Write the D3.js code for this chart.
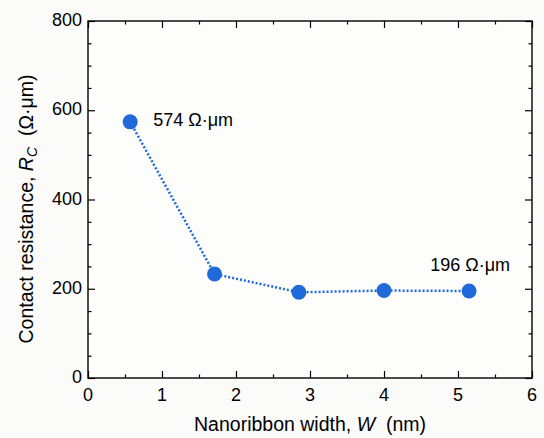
<!DOCTYPE html>
<html>
<head>
<meta charset="utf-8">
<script src="https://cdn.jsdelivr.net/npm/d3@7"></script>
<style>
  body { margin: 0; background: #fbfbf9; }
  text { font-family: "Liberation Sans", Arial, sans-serif; }
</style>
</head>
<body>
<svg id="chart" width="544" height="438"></svg>
<script>
// nanoribbon width (nm) vs contact resistance (ohm·um)
var widths = [0.57, 1.71, 2.85, 4.0, 5.15];
var resist = [574, 233, 192, 196, 195];
var xTicks = [0, 1, 2, 3, 4, 5, 6];
var yTicks = [0, 200, 400, 600, 800];
var notes = [{ i: 0, txt: "574 Ω·μm" }, { i: 4, txt: "196 Ω·μm" }];

var svg = d3.select("#chart");
// plot box (window.top is reserved, so no "top" here)
var pL = 88, pT = 21, pR = 532, pB = 378;
var blue = "#1f6ad8";

var x = d3.scaleLinear().domain([0, 6]).range([pL, pR]);
var y = d3.scaleLinear().domain([0, 800]).range([pB, pT]);

svg.append("rect")
    .attr("x", pL).attr("y", pT)
    .attr("width", pR - pL).attr("height", pB - pT)
    .attr("fill", "#fdfdfc");

// ticks on all four sides, pointing inward; major 7px, minor 3.5px
var minorX = d3.range(0.5, 6, 1);
var minorY = d3.range(50, 800, 50).filter(function (v) { return v % 200 !== 0; });

function tickAxis(axis, g) {
    g.call(axis);
    g.select(".domain").remove();
    g.selectAll("line").attr("stroke", "#000").attr("stroke-width", 1.2);
}

[[xTicks, -7], [minorX, -3.5]].forEach(function (t) {
    tickAxis(d3.axisBottom(x).tickValues(t[0]).tickSize(t[1]).tickFormat(""),
        svg.append("g").attr("transform", "translate(0," + pB + ")"));
    tickAxis(d3.axisTop(x).tickValues(t[0]).tickSize(t[1]).tickFormat(""),
        svg.append("g").attr("transform", "translate(0," + pT + ")"));
});
[[yTicks, -7], [minorY, -3.5]].forEach(function (t) {
    tickAxis(d3.axisLeft(y).tickValues(t[0]).tickSize(t[1]).tickFormat(""),
        svg.append("g").attr("transform", "translate(" + pL + ",0)"));
    tickAxis(d3.axisRight(y).tickValues(t[0]).tickSize(t[1]).tickFormat(""),
        svg.append("g").attr("transform", "translate(" + pR + ",0)"));
});

svg.append("rect")
    .attr("x", pL).attr("y", pT)
    .attr("width", pR - pL).attr("height", pB - pT)
    .attr("fill", "none").attr("stroke", "#000").attr("stroke-width", 1.4);

// tick labels
svg.append("g").selectAll("text").data(xTicks).enter().append("text")
    .attr("x", function (d) { return x(d); })
    .attr("y", pB + 23)
    .attr("text-anchor", "middle")
    .attr("font-size", 18)
    .text(function (d) { return d; });

svg.append("g").selectAll("text").data(yTicks).enter().append("text")
    .attr("x", pL - 6)
    .attr("y", function (d) { return y(d) + 5; })
    .attr("text-anchor", "end")
    .attr("font-size", 18)
    .text(function (d) { return d; });

// axis titles
var xt = svg.append("text")
    .attr("x", 310).attr("y", 431)
    .attr("text-anchor", "middle")
    .attr("font-size", 19.5);
xt.append("tspan").text("Nanoribbon width, ");
xt.append("tspan").attr("font-style", "italic").text("W");
xt.append("tspan").text("\u00a0 (nm)");

var yt = svg.append("text")
    .attr("transform", "translate(33,209) rotate(-90)")
    .attr("text-anchor", "middle")
    .attr("font-size", 19.5);
yt.append("tspan").text("Contact resistance, ");
yt.append("tspan").attr("font-style", "italic").text("R");
yt.append("tspan").attr("font-style", "italic").attr("font-size", 14).attr("dy", 4).text("C");
yt.append("tspan").attr("dy", -4).text("\u00a0 (Ω·μm)");

// data
var pts = widths.map(function (w, i) { return [w, resist[i]]; });

svg.append("path")
    .attr("d", d3.line().x(function (d) { return x(d[0]); }).y(function (d) { return y(d[1]); })(pts))
    .attr("fill", "none")
    .attr("stroke", blue)
    .attr("stroke-width", 2.5)
    .attr("stroke-dasharray", "2,2");

svg.append("g").selectAll("circle").data(pts).enter().append("circle")
    .attr("cx", function (d) { return x(d[0]); })
    .attr("cy", function (d) { return y(d[1]); })
    .attr("r", 7.5)
    .attr("fill", blue);

svg.append("text")
    .attr("x", x(widths[0]) + 23).attr("y", y(resist[0]) + 4)
    .attr("font-size", 18)
    .text(notes[0].txt);
svg.append("text")
    .attr("x", x(widths[4]) + 1).attr("y", y(resist[4]) - 20)
    .attr("text-anchor", "middle")
    .attr("font-size", 18)
    .text(notes[1].txt);
</script>
</body>
</html>
